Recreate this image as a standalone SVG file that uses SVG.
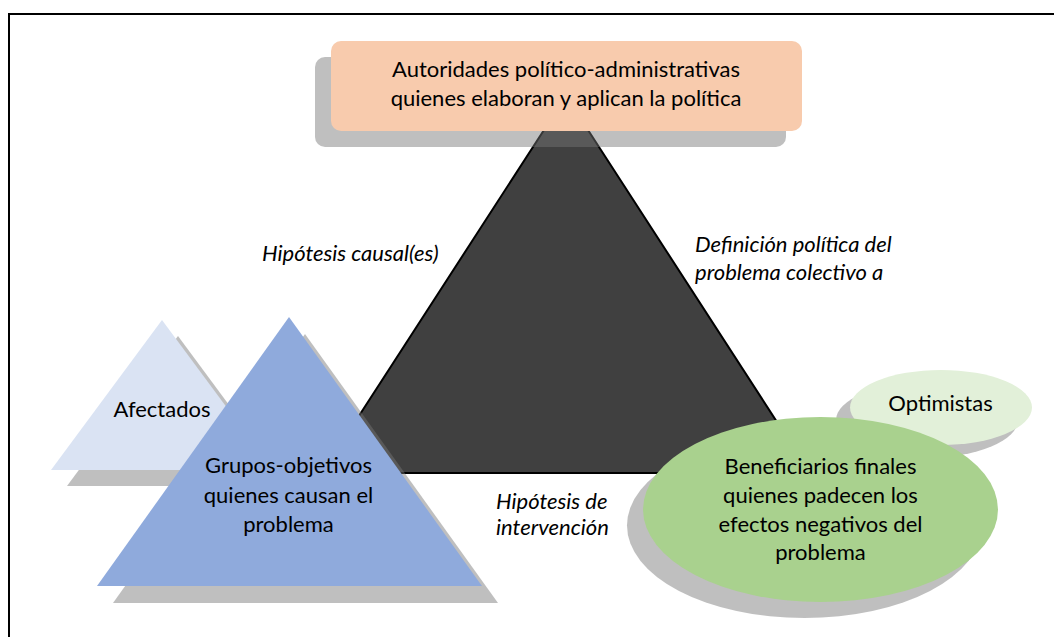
<svg xmlns="http://www.w3.org/2000/svg" width="1054" height="637" viewBox="0 0 1054 637">
  <style>
    .lbl { font-family: Lato, "Open Sans", "Liberation Sans", sans-serif; font-size: 22px; fill: #000; text-anchor: middle; }
    .note { font-family: Lato, "Open Sans", "Liberation Sans", sans-serif; font-size: 22px; font-style: italic; fill: #000; }
    .shadow { fill: #767676; fill-opacity: 0.466; }
  </style>

  <!-- page frame -->
  <rect x="9" y="14" width="1100" height="700" fill="#fff" stroke="#000" stroke-width="2"/>

  <!-- central policy triangle -->
  <g id="policy-triangle">
    <polygon points="566,96 322,473 810,473" fill="#404040" stroke="#000" stroke-width="2" stroke-linejoin="miter"/>
  </g>

  <!-- authorities box -->
  <g id="authorities">
    <rect class="shadow" x="315" y="57" width="471" height="90" rx="10"/>
    <rect x="331" y="41" width="471" height="90" rx="10" fill="#F8CBAD"/>
    <text class="lbl" x="566" y="77">Autoridades político-administrativas</text>
    <text class="lbl" x="566" y="106">quienes elaboran y aplican la política</text>
  </g>

  <!-- edge labels -->
  <g id="connector-labels">
    <text class="note" x="262" y="261">Hipótesis causal(es)</text>
    <text class="note" x="695" y="252">Definición política del</text>
    <text class="note" x="695" y="280">problema colectivo a</text>
    <text class="note" x="496" y="509">Hipótesis de</text>
    <text class="note" x="496" y="535">intervención</text>
  </g>

  <!-- affected parties -->
  <g id="afectados">
    <polygon class="shadow" points="178,336 67,486 289,486"/>
    <polygon points="162,320 51,470 273,470" fill="#DAE3F3"/>
    <text class="lbl" x="162" y="417">Afectados</text>
  </g>

  <!-- target groups -->
  <g id="grupos-objetivos">
    <polygon class="shadow" points="305,334 113,603 498,603"/>
    <polygon points="289,317 97,586 482,586" fill="#8FAADC"/>
    <text class="lbl" x="288.5" y="473">Grupos-objetivos</text>
    <text class="lbl" x="288.5" y="503">quienes causan el</text>
    <text class="lbl" x="288.5" y="532">problema</text>
  </g>

  <!-- optimists -->
  <g id="optimistas">
    <ellipse class="shadow" cx="927" cy="420" rx="91" ry="37.5"/>
    <ellipse cx="941" cy="407.5" rx="91" ry="37.5" fill="#E2F0D9"/>
    <text class="lbl" x="940.5" y="411">Optimistas</text>
  </g>

  <!-- final beneficiaries -->
  <g id="beneficiarios">
    <ellipse class="shadow" cx="804.5" cy="525.5" rx="177.5" ry="92.5"/>
    <ellipse cx="820.5" cy="509.5" rx="177.5" ry="92.5" fill="#A9D18E"/>
    <text class="lbl" x="820.5" y="474">Beneficiarios finales</text>
    <text class="lbl" x="820.5" y="503">quienes padecen los</text>
    <text class="lbl" x="820.5" y="532">efectos negativos del</text>
    <text class="lbl" x="820.5" y="560">problema</text>
  </g>
</svg>
